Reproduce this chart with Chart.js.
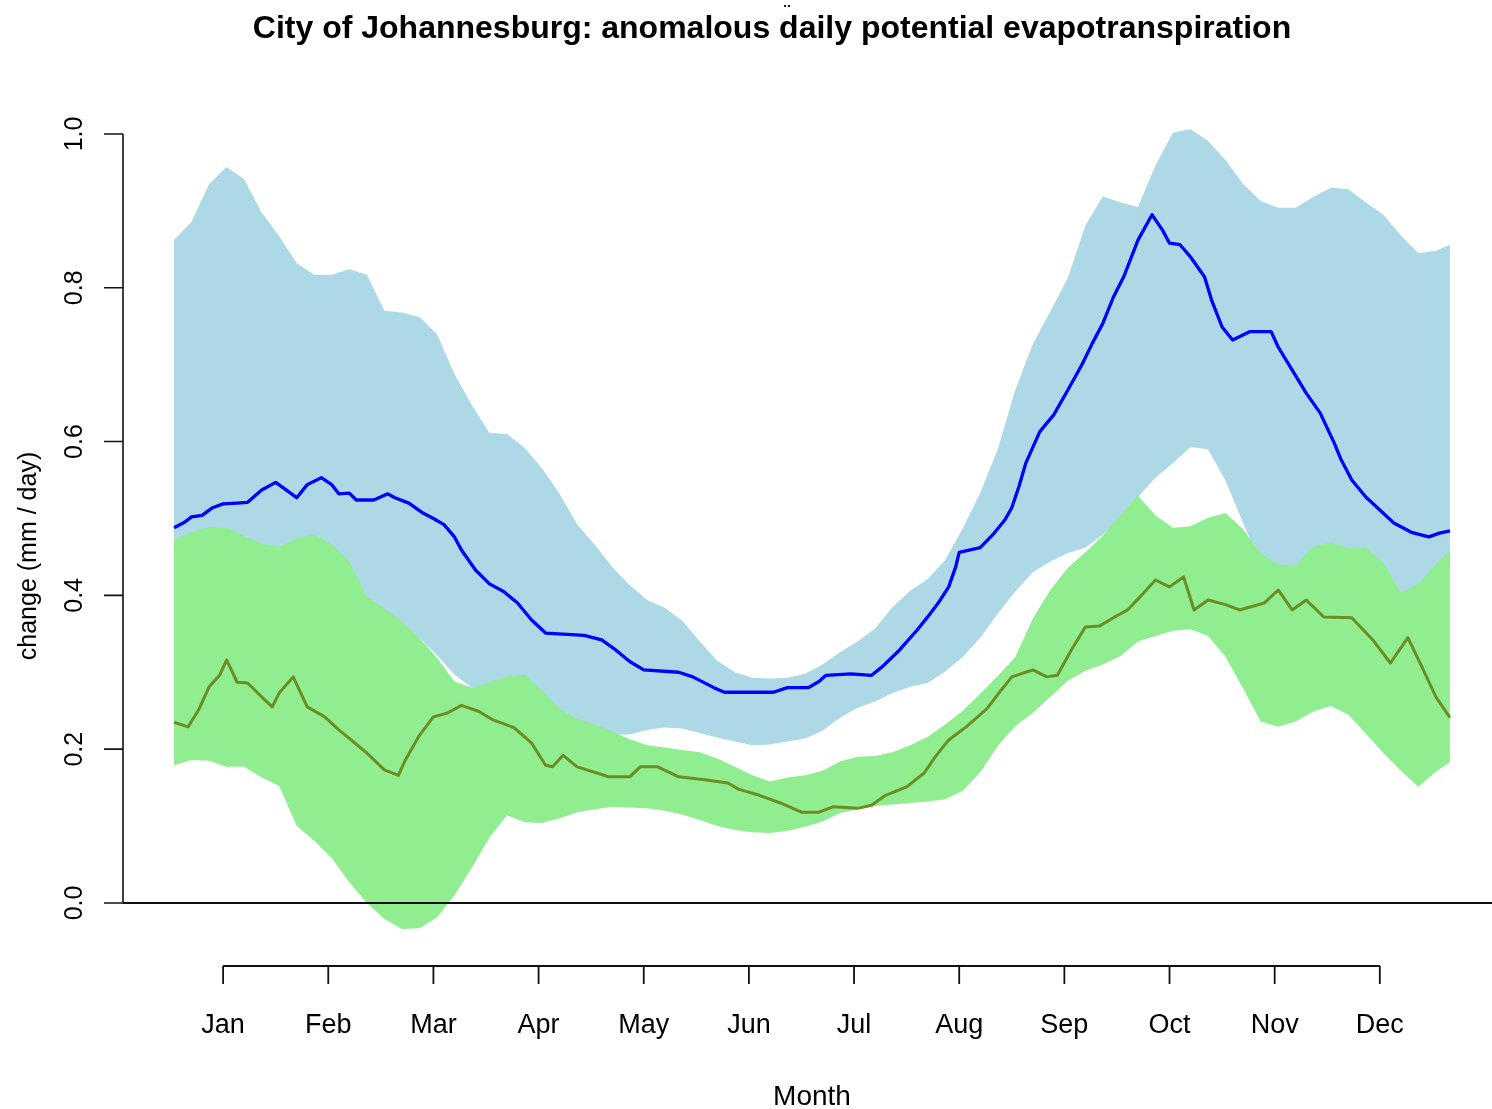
<!DOCTYPE html>
<html lang="en">
<head>
<meta charset="UTF-8">
<title>City of Johannesburg: anomalous daily potential evapotranspiration</title>
<script src="https://cdn.jsdelivr.net/npm/chart.js@4.4.1/dist/chart.umd.min.js"></script>
<style>
  html, body { margin: 0; padding: 0; background: #fff; }
  #wrap { width: 1492px; height: 1109px; }
</style>
</head>
<body>
<div id="wrap"><canvas id="petChart" width="1492" height="1109"></canvas></div>
<script>
// day of year for the two bands (shared grid so the fills line up)
const bandDays = [1,6,11,16,21,26,31,36,41,46,51,56,61,66,71,76,81,86,91,96,
  101,106,111,116,121,126,131,136,141,146,151,156,161,166,171,176,181,186,191,196,
  201,206,211,216,221,226,231,236,241,246,251,256,261,266,271,276,281,286,291,296,
  301,306,311,316,321,326,331,336,341,346,351,356,361,365];

// light blue band
const blueUpper = [0.862,0.886,0.935,0.957,0.941,0.898,0.867,0.832,0.817,0.817,
  0.824,0.817,0.770,0.768,0.762,0.740,0.688,0.647,0.611,0.610,
  0.592,0.565,0.532,0.492,0.466,0.437,0.413,0.394,0.384,0.367,
  0.340,0.315,0.300,0.293,0.292,0.293,0.298,0.310,0.326,0.340,
  0.357,0.385,0.406,0.421,0.446,0.487,0.533,0.590,0.667,0.727,
  0.769,0.813,0.881,0.919,0.911,0.905,0.959,1.002,1.006,0.991,
  0.966,0.935,0.913,0.904,0.904,0.918,0.930,0.928,0.911,0.895,
  0.868,0.845,0.848,0.856];
const blueLower = [0.45,0.46,0.46,0.46,0.45,0.44,0.44,0.45,0.45,0.44,
  0.42,0.38,0.37,0.355,0.345,0.322,0.297,0.280,0.275,0.275,
  0.27,0.255,0.240,0.228,0.222,0.219,0.219,0.225,0.228,0.227,
  0.221,0.215,0.210,0.205,0.206,0.210,0.214,0.224,0.241,0.254,
  0.262,0.273,0.281,0.286,0.301,0.320,0.345,0.376,0.405,0.430,
  0.444,0.455,0.462,0.479,0.500,0.528,0.553,0.572,0.593,0.590,
  0.549,0.494,0.440,0.42,0.42,0.44,0.45,0.44,0.44,0.42,
  0.39,0.39,0.41,0.43];

// light green band
const greenUpper = [0.472,0.482,0.489,0.488,0.477,0.467,0.464,0.474,0.479,0.466,
  0.444,0.398,0.383,0.366,0.345,0.319,0.288,0.280,0.287,0.294,
  0.297,0.276,0.252,0.240,0.232,0.223,0.213,0.205,0.202,0.199,
  0.196,0.188,0.177,0.166,0.158,0.163,0.166,0.172,0.184,0.190,
  0.191,0.196,0.205,0.216,0.232,0.250,0.272,0.295,0.320,0.370,
  0.407,0.436,0.456,0.478,0.504,0.530,0.504,0.488,0.490,0.501,
  0.507,0.486,0.454,0.440,0.439,0.463,0.469,0.461,0.462,0.442,
  0.403,0.415,0.440,0.459];
const greenLower = [0.179,0.186,0.185,0.177,0.177,0.163,0.152,0.100,0.081,0.058,
  0.027,0.000,-0.021,-0.034,-0.033,-0.019,0.010,0.046,0.085,0.114,
  0.105,0.104,0.110,0.118,0.122,0.125,0.124,0.123,0.120,0.115,
  0.108,0.100,0.095,0.092,0.091,0.094,0.099,0.106,0.117,0.122,
  0.126,0.128,0.130,0.132,0.135,0.146,0.170,0.204,0.230,0.247,
  0.268,0.289,0.302,0.310,0.321,0.340,0.347,0.354,0.356,0.347,
  0.320,0.279,0.236,0.229,0.236,0.249,0.256,0.245,0.220,0.195,
  0.172,0.151,0.171,0.183];

// blue central line
const blueMeanDays = [1,4,6,9,12,15,19,22,26,30,36,39,43,46,48,51,53,58,62,64,
  68,72,75,78,81,83,87,91,95,99,103,107,118,123,127,131,135,145,149,155,
  158,172,176,182,185,187,194,200,203,208,213,216,219,222,224,225,231,235,238,240,
  242,244,248,252,256,260,263,266,269,272,276,280,283,285,288,291,295,297,300,303,
  308,314,316,320,324,328,332,334,337,341,345,349,354,359,362,365];
const blueMean = [0.488,0.495,0.502,0.504,0.514,0.519,0.520,0.521,0.537,0.547,
  0.527,0.544,0.553,0.544,0.532,0.533,0.524,0.524,0.532,0.527,
  0.520,0.507,0.500,0.492,0.476,0.459,0.433,0.415,0.405,0.390,
  0.368,0.351,0.348,0.342,0.329,0.314,0.303,0.300,0.294,0.280,
  0.274,0.274,0.280,0.280,0.288,0.296,0.298,0.296,0.307,0.329,
  0.355,0.372,0.390,0.411,0.437,0.456,0.462,0.481,0.498,0.514,
  0.541,0.572,0.613,0.635,0.667,0.700,0.728,0.754,0.788,0.815,
  0.862,0.895,0.875,0.858,0.856,0.840,0.814,0.784,0.749,0.732,
  0.743,0.743,0.723,0.693,0.663,0.637,0.598,0.576,0.550,0.528,
  0.511,0.494,0.482,0.476,0.481,0.484];

// olive central line
const greenMeanDays = [1,5,8,11,14,16,19,22,26,29,31,35,39,44,48,51,56,61,65,67,
  71,75,79,83,88,92,98,103,107,109,112,116,121,125,131,134,139,145,153,159,
  162,168,174,180,185,189,196,200,204,210,215,218,222,227,233,237,240,246,250,253,
  257,261,265,269,273,277,281,285,289,292,296,301,305,312,316,320,324,329,337,343,
  348,353,357,361,365];
const greenMean = [0.235,0.229,0.251,0.281,0.296,0.316,0.287,0.286,0.268,0.255,
  0.273,0.294,0.255,0.242,0.225,0.214,0.195,0.173,0.166,0.186,
  0.218,0.242,0.247,0.257,0.249,0.238,0.228,0.208,0.179,0.177,
  0.192,0.177,0.170,0.164,0.164,0.177,0.177,0.164,0.160,0.156,
  0.148,0.140,0.130,0.118,0.118,0.125,0.123,0.127,0.140,0.151,
  0.169,0.189,0.212,0.229,0.253,0.277,0.294,0.303,0.294,0.296,
  0.329,0.359,0.360,0.371,0.381,0.400,0.420,0.411,0.424,0.381,
  0.394,0.388,0.381,0.390,0.407,0.381,0.394,0.372,0.371,0.342,
  0.312,0.345,0.307,0.268,0.241];

// axes
const monthDays = [15,45,75,105,135,165,195,225,255,285,315,345];
const monthLabels = ['Jan','Feb','Mar','Apr','May','Jun','Jul','Aug','Sep','Oct','Nov','Dec'];
const yTicks = [0.0,0.2,0.4,0.6,0.8,1.0];

function pts(xs, ys) {
    return xs.map((d, i) => ({ x: d, y: ys[i] }));
}

// R style axes, labels and title
const rAxes = {
    id: 'rAxes',
    afterDatasetsDraw(chart) {
        const ctx = chart.ctx;
        const x = chart.scales.x;
        const y = chart.scales.y;
        const area = chart.chartArea;
        ctx.save();
        ctx.strokeStyle = '#111';
        ctx.fillStyle = '#000';

        // abline at zero
        const y0 = y.getPixelForValue(0);
        ctx.lineWidth = 2;
        ctx.beginPath();
        ctx.moveTo(area.left, y0);
        ctx.lineTo(area.right, y0);
        ctx.stroke();

        // left axis
        ctx.lineWidth = 1.6;
        ctx.beginPath();
        ctx.moveTo(area.left, y.getPixelForValue(yTicks[0]));
        ctx.lineTo(area.left, y.getPixelForValue(yTicks[yTicks.length - 1]));
        yTicks.forEach(v => {
            const py = y.getPixelForValue(v);
            ctx.moveTo(area.left - 19, py);
            ctx.lineTo(area.left, py);
        });
        ctx.stroke();
        ctx.font = '25px "Liberation Sans", Arial, sans-serif';
        ctx.textAlign = 'center';
        ctx.textBaseline = 'alphabetic';
        yTicks.forEach(v => {
            const py = y.getPixelForValue(v);
            ctx.save();
            ctx.translate(area.left - 41, py);
            ctx.rotate(-Math.PI / 2);
            ctx.fillText(v.toFixed(1), 0, 0);
            ctx.restore();
        });

        // bottom axis
        const yb = area.bottom;
        ctx.lineWidth = 1.8;
        ctx.beginPath();
        ctx.moveTo(x.getPixelForValue(monthDays[0]), yb);
        ctx.lineTo(x.getPixelForValue(monthDays[monthDays.length - 1]), yb);
        monthDays.forEach(d => {
            const px = x.getPixelForValue(d);
            ctx.moveTo(px, yb);
            ctx.lineTo(px, yb + 18);
        });
        ctx.stroke();
        ctx.font = '27px "Liberation Sans", Arial, sans-serif';
        monthDays.forEach((d, i) => {
            ctx.fillText(monthLabels[i], x.getPixelForValue(d), yb + 67);
        });

        // axis titles
        ctx.font = '28px "Liberation Sans", Arial, sans-serif';
        ctx.fillText('Month', 812, 1105);
        ctx.save();
        ctx.font = '25px "Liberation Sans", Arial, sans-serif';
        ctx.translate(36, 556);
        ctx.rotate(-Math.PI / 2);
        ctx.fillText('change (mm / day)', 0, 0);
        ctx.restore();

        // main title (with the stray diaeresis above "daily")
        ctx.font = 'bold 32px "Liberation Sans", Arial, sans-serif';
        ctx.fillText('City of Johannesburg: anomalous daily potential evapotranspiration', 772, 38);
        ctx.font = 'bold 18px "Liberation Sans", Arial, sans-serif';
        ctx.fillText('\u00A8', 787, 18);
        ctx.restore();
    }
};

const petChart = new Chart(document.getElementById('petChart'), {
    type: 'line',
    data: {
        datasets: [
            {
                data: pts(bandDays, blueUpper),
                borderWidth: 0,
                backgroundColor: '#ADD8E6',
                fill: '+1',
                order: 6
            },
            {
                data: pts(bandDays, blueLower),
                borderWidth: 0,
                fill: false,
                order: 5
            },
            {
                data: pts(bandDays, greenUpper),
                borderWidth: 0,
                backgroundColor: '#90EE90',
                fill: '+1',
                order: 4
            },
            {
                data: pts(bandDays, greenLower),
                borderWidth: 0,
                fill: false,
                order: 3
            },
            {
                data: pts(blueMeanDays, blueMean),
                borderColor: '#0000FF',
                borderWidth: 3.3,
                fill: false,
                order: 2
            },
            {
                data: pts(greenMeanDays, greenMean),
                borderColor: '#6B8E23',
                borderWidth: 3,
                fill: false,
                order: 1
            }
        ]
    },
    options: {
        responsive: false,
        animation: false,
        events: [],
        layout: { padding: { left: 123, top: 94, right: 0, bottom: 143 } },
        elements: {
            point: { radius: 0 },
            line: { tension: 0, borderJoinStyle: 'round' }
        },
        plugins: {
            legend: { display: false },
            tooltip: { enabled: false },
            title: { display: false }
        },
        scales: {
            x: { type: 'linear', min: -13.56, max: 377, display: false },
            y: { type: 'linear', min: -0.082, max: 1.052, display: false }
        }
    },
    plugins: [rAxes]
});
</script>
</body>
</html>
